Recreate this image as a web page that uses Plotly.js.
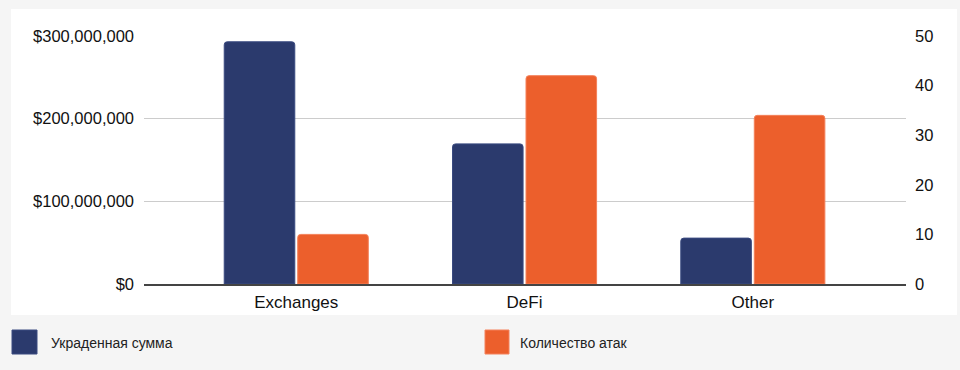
<!DOCTYPE html>
<html>
<head>
<meta charset="utf-8">
<script src="https://cdn.plot.ly/plotly-3.0.1.min.js"></script>
<style>
html,body{margin:0;padding:0;background:#f5f5f5;}
#chart{width:960px;height:370px;}
</style>
</head>
<body>
<div id="chart"></div>
<script>
// ---- data ----
const categories = ["Exchanges", "DeFi", "Other"];
const stolenAmount = [293000000, 169500000, 55500000];
const attackCount = [10, 42, 34];
const seriesNames = ["Украденная сумма", "Количество атак"];
const leftTicks = [0, 100000000, 200000000, 300000000];
const leftTickLabels = ["$0", "$100,000,000", "$200,000,000", "$300,000,000"];
const rightTicks = [0, 10, 20, 30, 40, 50];

// ---- styles ----
const navy = "#2b3a6d";
const orange = "#ec5f2c";
const W = 960, H = 370;
const M = {l: 144, r: 54, t: 36, b: 86};
const pw = W - M.l - M.r, ph = H - M.t - M.b;
const px = x => (x - M.l) / pw;
const py = y => (H - M.b - y) / ph;

const font = "Arial, 'Liberation Sans', sans-serif";

const traces = [
  {
    type: "bar", name: seriesNames[0], x: categories, y: stolenAmount,
    yaxis: "y", offsetgroup: "a",
    marker: {color: navy, line: {color: "#3a4a80", width: 1}, cornerradius: 3},
    hoverinfo: "x+y"
  },
  {
    type: "bar", name: seriesNames[1], x: categories, y: attackCount,
    yaxis: "y2", offsetgroup: "b",
    marker: {color: orange, line: {color: "#f4815a", width: 1}, cornerradius: 3},
    hoverinfo: "x+y"
  }
];

const shapes = [
  {type: "rect", xref: "paper", yref: "paper", layer: "below",
   x0: px(11), x1: px(957), y0: py(315), y1: py(9),
   fillcolor: "#ffffff", line: {width: 0}},
  {type: "rect", xref: "paper", yref: "paper",
   x0: px(12), x1: px(37), y0: py(354), y1: py(330),
   fillcolor: navy, line: {color: "#3a4a80", width: 1}},
  {type: "rect", xref: "paper", yref: "paper",
   x0: px(485), x1: px(509), y0: py(354), y1: py(330),
   fillcolor: orange, line: {color: "#f4815a", width: 1}}
];

const annotations = [
  {xref: "paper", yref: "paper", x: px(49), y: py(343), xanchor: "left", yanchor: "middle",
   text: seriesNames[0], showarrow: false, font: {family: font, size: 14, color: "#222"}},
  {xref: "paper", yref: "paper", x: px(518), y: py(343), xanchor: "left", yanchor: "middle",
   text: seriesNames[1], showarrow: false, font: {family: font, size: 14, color: "#222"}}
];

const layout = {
  width: W, height: H,
  margin: M,
  paper_bgcolor: "#f5f5f5",
  plot_bgcolor: "rgba(0,0,0,0)",
  showlegend: false,
  barmode: "group",
  bargap: 0.356,
  bargroupgap: 0.04,
  font: {family: font, color: "#111"},
  xaxis: {
    type: "category",
    range: [-0.667, 2.671],
    showgrid: false, zeroline: false,
    showline: true, linecolor: "#444", linewidth: 1.5,
    ticks: "", ticklabelstandoff: 2,
    tickfont: {family: font, size: 17, color: "#111"},
    fixedrange: true
  },
  yaxis: {
    range: [0, 300000000],
    tickmode: "array",
    tickvals: leftTicks,
    ticktext: leftTickLabels,
    showgrid: true, gridcolor: "#cccccc", gridwidth: 1,
    zeroline: false, showline: false, ticks: "",
    ticklabelstandoff: 9,
    tickfont: {family: font, size: 16.5, color: "#111"},
    fixedrange: true
  },
  yaxis2: {
    overlaying: "y", side: "right",
    range: [0, 50],
    tickvals: rightTicks,
    showgrid: false, zeroline: false, showline: false, ticks: "",
    ticklabelstandoff: 8,
    tickfont: {family: font, size: 16.5, color: "#111"},
    fixedrange: true
  },
  shapes: shapes,
  annotations: annotations
};

Plotly.newPlot("chart", traces, layout, {displayModeBar: false, staticPlot: true});
</script>
</body>
</html>
